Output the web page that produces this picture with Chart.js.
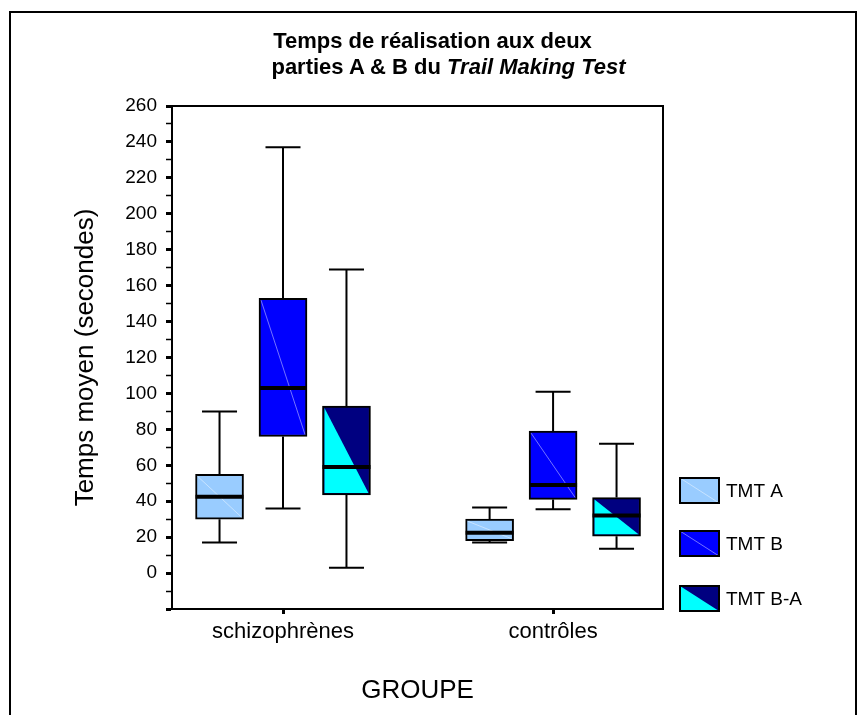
<!DOCTYPE html>
<html lang="fr">
<head>
<meta charset="utf-8">
<title>Trail Making Test</title>
<script src="https://cdn.jsdelivr.net/npm/chart.js@4/dist/chart.umd.min.js"></script>
<style>
	body { margin: 0; background: #fff; }
	#contenedor { position: relative; width: 865px; height: 715px; }
	.titulo {
		position: absolute;
		width: 865px;
		text-align: center;
		font: bold 22px 'Liberation Sans', Arial, sans-serif;
		line-height: 26px;
		color: #000;
	}
</style>
</head>
<body>
<div id="contenedor">
	<canvas id="graficaTMT" width="865" height="715"></canvas>
	<div class="titulo" style="top: 28px; left: 0px;">Temps de réalisation aux deux</div>
	<div class="titulo" style="top: 54px; left: 16px;">parties A &amp; B du <i>Trail Making Test</i></div>
</div>
<script>
const grupos = ['schizophrènes', 'contrôles'];
const posGrupos = [1, 2];
const series = ['TMT A', 'TMT B', 'TMT B-A'];
const desplazamiento = [-0.235, 0, 0.235];

// valores por serie: [schizophrènes, contrôles]
const bigoteInf = [[17, 17], [36, 35.5], [3, 13.5]];
const cuartil1 = [[30, 18], [76, 41], [43.5, 20.5]];
const mediana = [[42.5, 22.5], [103, 49], [59, 32]];
const cuartil3 = [[55, 30], [153, 79], [93, 42]];
const bigoteSup = [[90, 36.5], [237, 101], [169, 72]];

const colores = ['#99ccff', '#0000ff', '#000080'];
const colorTriangulo = '#00ffff';
const fuente = "'Liberation Sans', Arial, sans-serif";

// caja B-A: triangulo cyan abajo a la izquierda
function trianguloBA(ctx, izq, arriba, der, abajo) {
	ctx.fillStyle = colorTriangulo;
	ctx.beginPath();
	ctx.moveTo(izq, arriba);
	ctx.lineTo(izq, abajo);
	ctx.lineTo(der, abajo);
	ctx.closePath();
	ctx.fill();
}

function diagonalClara(ctx, izq, arriba, der, abajo) {
	ctx.strokeStyle = 'rgba(255, 255, 255, 0.45)';
	ctx.lineWidth = 1;
	ctx.beginPath();
	ctx.moveTo(izq, arriba);
	ctx.lineTo(der, abajo);
	ctx.stroke();
}

const pluginCajas = {
	id: 'cajas',
	beforeDraw(chart) {
		let ctx = chart.ctx;
		ctx.save();
		ctx.strokeStyle = '#000';
		ctx.lineWidth = 2;
		ctx.beginPath();
		ctx.moveTo(10, 715);
		ctx.lineTo(10, 12);
		ctx.lineTo(856, 12);
		ctx.lineTo(856, 715);
		ctx.stroke();
		ctx.restore();
	},
	beforeDatasetsDraw(chart) {
		let ctx = chart.ctx;
		let area = chart.chartArea;
		let escalaY = chart.scales.y;
		ctx.save();
		ctx.strokeStyle = '#000';
		ctx.lineWidth = 2;
		ctx.beginPath();
		ctx.moveTo(area.left, area.top);
		ctx.lineTo(area.right, area.top);
		ctx.lineTo(area.right, area.bottom);
		ctx.stroke();

		// bigotes
		series.forEach((s, i) => {
			chart.getDatasetMeta(i).data.forEach((barra, g) => {
				let x = barra.x;
				let yInf = escalaY.getPixelForValue(bigoteInf[i][g]);
				let yQ1 = escalaY.getPixelForValue(cuartil1[i][g]);
				let yQ3 = escalaY.getPixelForValue(cuartil3[i][g]);
				let ySup = escalaY.getPixelForValue(bigoteSup[i][g]);
				ctx.beginPath();
				ctx.moveTo(x, yInf);
				ctx.lineTo(x, yQ1);
				ctx.moveTo(x, yQ3);
				ctx.lineTo(x, ySup);
				ctx.moveTo(x - 17.5, yInf);
				ctx.lineTo(x + 17.5, yInf);
				ctx.moveTo(x - 17.5, ySup);
				ctx.lineTo(x + 17.5, ySup);
				ctx.stroke();
			});
		});
		ctx.restore();
	},
	afterDatasetsDraw(chart) {
		let ctx = chart.ctx;
		let escalaY = chart.scales.y;
		ctx.save();
		series.forEach((s, i) => {
			chart.getDatasetMeta(i).data.forEach((barra, g) => {
				let p = barra.getProps(['x', 'y', 'base', 'width'], true);
				let izq = p.x - p.width / 2 + 2;
				let der = p.x + p.width / 2 - 2;
				let arriba = Math.min(p.y, p.base) + 2;
				let abajo = Math.max(p.y, p.base) - 2;
				if (i === 2) {
					trianguloBA(ctx, izq, arriba, der, abajo);
				} else {
					diagonalClara(ctx, izq, arriba, der, abajo);
				}
				let yMed = escalaY.getPixelForValue(mediana[i][g]);
				ctx.strokeStyle = '#000';
				ctx.lineWidth = 4;
				ctx.beginPath();
				ctx.moveTo(izq - 2, yMed);
				ctx.lineTo(der + 2, yMed);
				ctx.stroke();
			});
		});
		ctx.restore();
	},
	afterDraw(chart) {
		let ctx = chart.ctx;
		let filas = [478, 531, 586];
		ctx.save();
		series.forEach((nombre, i) => {
			let y = filas[i];
			ctx.fillStyle = colores[i];
			ctx.fillRect(680, y, 39, 25);
			if (i === 2) {
				trianguloBA(ctx, 680, y, 719, y + 25);
			} else {
				diagonalClara(ctx, 680, y, 719, y + 25);
			}
			ctx.strokeStyle = '#000';
			ctx.lineWidth = 2;
			ctx.strokeRect(680, y, 39, 25);
			ctx.fillStyle = '#000';
			ctx.font = '19px ' + fuente;
			ctx.textBaseline = 'middle';
			ctx.fillText(nombre, 726, y + 14);
		});
		ctx.restore();
	}
};

let datosCajas = series.map((nombre, i) => ({
	label: nombre,
	data: posGrupos.map((pos, g) => ({
		x: pos + desplazamiento[i],
		y: [cuartil1[i][g], cuartil3[i][g]]
	})),
	backgroundColor: colores[i],
	borderColor: '#000',
	borderWidth: 2,
	borderSkipped: false,
	barThickness: 48,
	grouped: false
}));

new Chart(document.getElementById('graficaTMT'), {
	type: 'bar',
	data: { datasets: datosCajas },
	options: {
		responsive: false,
		animation: false,
		layout: { padding: { top: 106, right: 202, bottom: 0, left: 0 } },
		plugins: {
			legend: { display: false },
			tooltip: { enabled: false }
		},
		scales: {
			x: {
				type: 'linear',
				offset: false,
				min: 0.589,
				max: 2.407,
				afterBuildTicks: (escala) => {
					escala.ticks = posGrupos.map((v) => ({ value: v }));
				},
				afterFit: (escala) => { escala.height = 106; },
				ticks: {
					autoSkip: false,
					maxRotation: 0,
					padding: 5,
					color: '#000',
					font: { family: fuente, size: 22 },
					callback: (v) => grupos[posGrupos.indexOf(v)]
				},
				grid: { offset: false, drawOnChartArea: false, color: '#000', tickLength: 5, tickWidth: 3 },
				border: { color: '#000', width: 2 },
				title: {
					display: true,
					text: 'GROUPE',
					color: '#000',
					font: { family: fuente, size: 26 },
					padding: { bottom: 9 }
				}
			},
			y: {
				min: -20,
				max: 260,
				afterFit: (escala) => { escala.width = 172; },
				ticks: {
					stepSize: 10,
					autoSkip: false,
					padding: 9,
					color: '#000',
					font: { family: fuente, size: 19 },
					callback: (v) => (v % 20 === 0 && v >= 0) ? v : ''
				},
				grid: {
					drawOnChartArea: false,
					color: '#000',
					tickLength: 6,
					tickWidth: (c) => (c.tick && c.tick.value % 20 === 0) ? 3 : 1.5
				},
				border: { color: '#000', width: 2 },
				title: {
					display: true,
					text: 'Temps moyen (secondes)',
					color: '#000',
					font: { family: fuente, size: 26 },
					padding: { top: 70 }
				}
			}
		}
	},
	plugins: [pluginCajas]
});
</script>
</body>
</html>
